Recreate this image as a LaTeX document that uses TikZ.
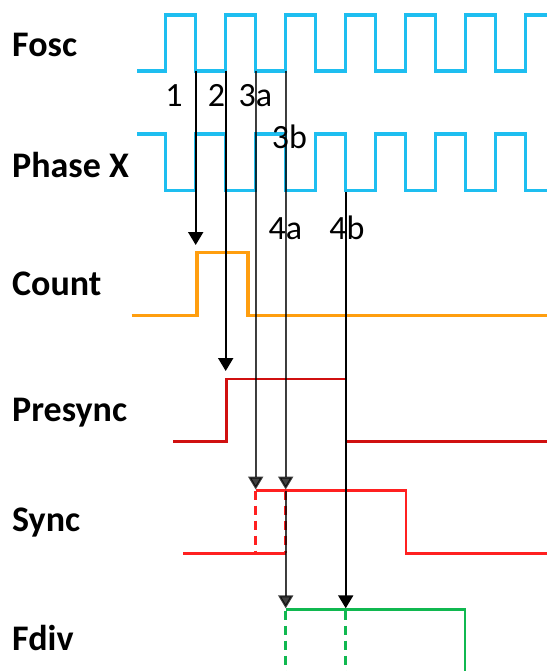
\documentclass[tikz,border=0pt]{standalone}
\usepackage{fontspec}
\setmainfont{Carlito}
\usetikzlibrary{arrows.meta}
\definecolor{oscblue}{HTML}{1EBEF0}
\definecolor{cntorange}{HTML}{FF9E0F}
\definecolor{presred}{HTML}{D01010}
\definecolor{syncred}{HTML}{FF2020}
\definecolor{divgreen}{HTML}{10B850}
\tikzset{
  osc/.style={oscblue, line width=3.2pt},
  cnt/.style={cntorange, line width=3.2pt},
  pres/.style={presred, line width=2.7pt},
  syn/.style={syncred, line width=2.7pt},
  dv/.style={divgreen, line width=2.7pt},
  dsh/.style={dash pattern=on 9pt off 6pt},
  arr/.style={line width=2pt, -{Triangle[width=15pt,length=13pt]}},
  garr/.style={arr, draw=black, fill=black, opacity=0.75},
  sig/.style={font=\bfseries\fontsize{36}{40}\selectfont, anchor=base west, inner sep=0pt},
  num/.style={font=\fontsize{34}{40}\selectfont, anchor=base, inner sep=0pt},
}
\begin{document}
\begin{tikzpicture}[x=1pt, y=-1pt]
\useasboundingbox (0,0) rectangle (547,671);
% signal names
\node[sig] (lfosc) at (12,57) {Fosc};
\node[sig] (lphx) at (12,177) {Phase X};
\node[sig] (lcnt) at (12,295.5) {Count};
\node[sig] (lpre) at (12,421) {Presync};
\node[sig] (lsyn) at (12,531.5) {Sync};
\node[sig] (ldiv) at (12,650) {Fdiv};
% Fosc
\draw[osc] (137,71) -| (165.7,15) -| (195.7,71) -| (225.7,15) -| (255.7,71) -| (285.7,15) -| (315.7,71) -| (345.7,15) -| (375.7,71) -| (405.7,15) -| (435.7,71) -| (465.7,15) -| (495.7,71) -| (525.7,15) -- (547,15);
% Phase X
\draw[osc] (137,134) -| (165.7,190.7) -| (195.7,134) -| (225.7,190.7) -| (255.7,134) -| (285.7,190.7) -| (315.7,134) -| (345.7,190.7) -| (375.7,134) -| (405.7,190.7) -| (435.7,134) -| (465.7,190.7) -| (495.7,134) -| (525.7,190.7) -- (547,190.7);
% Count
\draw[cnt] (131.7,315.7) -| (197,252.3) -| (248,315.7) -- (547,315.7);
% Presync
\draw[pres] (173.3,441.7) -| (226.5,379) -| (346,441.7) -- (547,441.7);
% Sync
\draw[syn] (183.3,553.3) -- (285.7,553.3);
\draw[syn, dsh] (255.7,490.7) -- (255.7,553.3);
\draw[syn, dsh] (285.7,490.7) -- (285.7,553.3);
\draw[syn] (255.7,490.7) -- (406,490.7) -- (406,553.3) -- (547,553.3);
% Fdiv
\draw[dv] (285.7,609.3) -- (465,609.3) -- (465,671);
\draw[dv, dsh] (285.7,610.5) -- (285.7,671);
\draw[dv, dsh] (345.7,610.5) -- (345.7,671);
% arrow end points
\coordinate (s1) at (195.7,71);
\coordinate (e1) at (195.7,245);
\coordinate (s2) at (225.7,71);
\coordinate (e2) at (225.7,371);
\coordinate (s3a) at (255.7,71);
\coordinate (e3a) at (255.7,489.5);
\coordinate (s3b) at (285.7,71);
\coordinate (e3b) at (285.7,489.5);
\coordinate (s4a) at (285.7,490.7);
\coordinate (e4a) at (285.7,608.3);
\coordinate (s4b) at (345.7,192);
\coordinate (e4b) at (345.7,608.3);
% arrows
\draw[arr] (s1) -- (e1);
\draw[arr] (s2) -- (e2);
\draw[garr] (s3a) -- (e3a);
\draw[garr] (s3b) -- (e3b);
\draw[garr] (s4a) -- (e4a);
\draw[arr] (s4b) -- (e4b);
% labels
\node[num] (n1) at (174,107) {1};
\node[num] (n2) at (216.5,107) {2};
\node[num] (n3a) at (255.5,107) {3a};
\node[num] (n3b) at (289.5,149) {3b};
\node[num] (n4a) at (285.5,239) {4a};
\node[num] (n4b) at (347,239) {4b};
\end{tikzpicture}
\end{document}
